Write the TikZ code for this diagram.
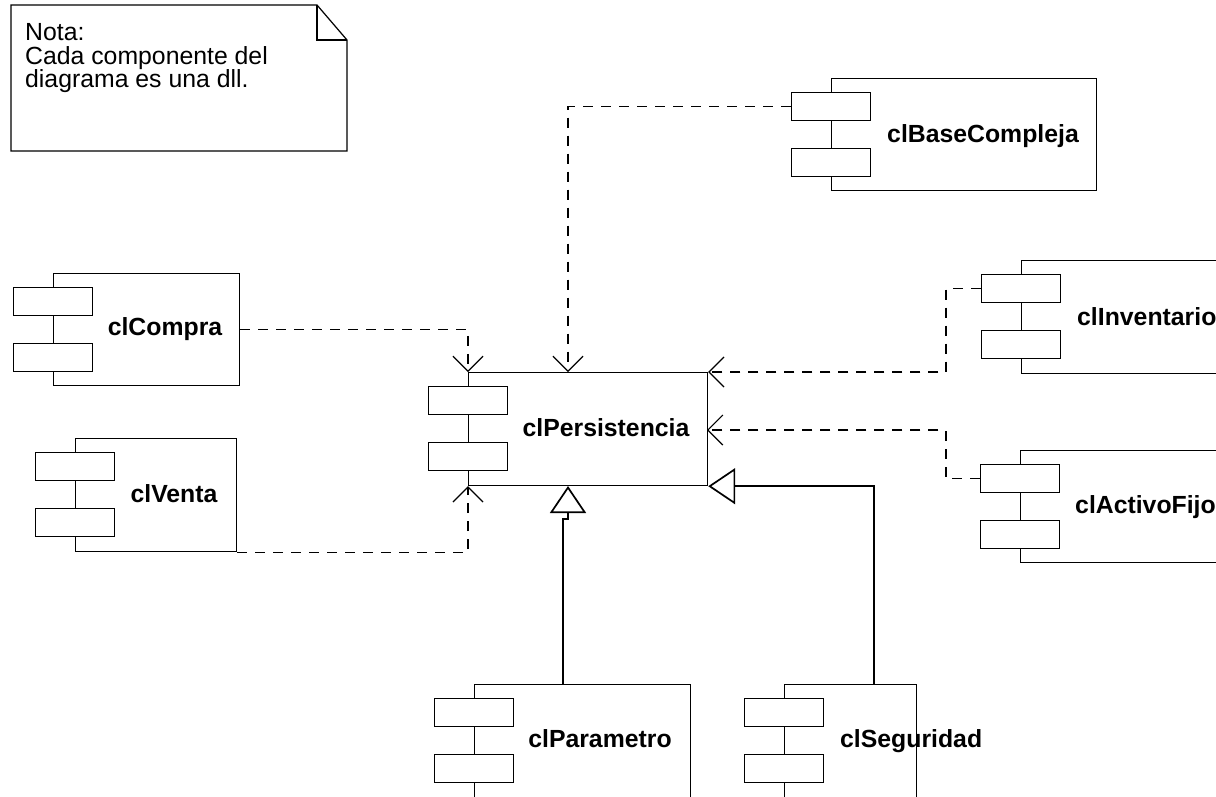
\documentclass[tikz,border=0pt]{standalone}
\usepackage{fontspec}
\setmainfont{Liberation Sans}
\usetikzlibrary{arrows.meta,calc}

\tikzset{
  compbody/.style={draw, fill=white, line width=1.2pt, inner sep=0pt, rectangle},
  compport/.style={draw, fill=white, line width=1.2pt, inner sep=0pt, rectangle,
                   minimum width=79pt, minimum height=28pt},
  complabel/.style={inner sep=0pt, font=\fontsize{24.8pt}{28pt}\selectfont\bfseries},
  notetext/.style={inner sep=0pt, anchor=base west, font=\fontsize{24.8pt}{28pt}\selectfont},
  dep/.style={line width=1.2pt, dash pattern=on 10pt off 8pt,
              -{Straight Barb[length=15pt,width=30pt]}},
  gen/.style={line width=1.7pt,
              -{Triangle[open,fill=white,length=27pt,width=36pt]}},
}

% component: body rectangle plus two ports straddling its left edge
% #1 name, #2 left x, #3 top y, #4 width, #5 height
\newcommand{\umlcomp}[5]{%
  \node[compbody, minimum width=#4pt, minimum height=#5pt, anchor=north west] (#1) at (#2,#3) {};
  \node[compport] (#1-a) at ($(#1.north west)+(0,28.5)$) {};
  \node[compport] (#1-b) at ($(#1.north west)+(0,84.5)$) {};
}

\begin{document}
\begin{tikzpicture}[x=1pt, y=-1pt]
\clip (0,0) rectangle (1216,796);
\fill[white] (0,0) rectangle (1216,796);

% note with folded corner
\draw[line width=1.2pt, line join=miter] (11,5) -- (317,5) -- (347,40) -- (347,151) -- (11,151) -- cycle;
\draw[line width=1.2pt] (317,5) -- (317,40) -- (347,40);
\node[notetext] (nota1) at (25,40) {Nota:};
\node[notetext] (nota2) at (25,64) {Cada componente del};
\node[notetext] (nota3) at (25,87) {diagrama es una dll.};

% components
\umlcomp{bc}{831}{78}{265}{112}
\umlcomp{com}{53}{273}{186}{112}
\umlcomp{ven}{75}{438}{161}{113}
\umlcomp{per}{468}{372}{239}{113}
\umlcomp{inv}{1021}{260}{220}{113}
\umlcomp{af}{1020}{450}{220}{112}
\umlcomp{par}{474}{684}{216}{130}
\umlcomp{seg}{784}{684}{132}{130}

% component names
\node[complabel, anchor=base] (bc-l) at (983,142) {clBaseCompleja};
\node[complabel, anchor=base] (com-l) at (165,335) {clCompra};
\node[complabel, anchor=base] (ven-l) at (174,502) {clVenta};
\node[complabel, anchor=base] (per-l) at (606,436) {clPersistencia};
\node[complabel, anchor=base west] (inv-l) at (1077,325) {clInventario};
\node[complabel, anchor=base west] (af-l) at (1075,513) {clActivoFijo};
\node[complabel, anchor=base] (par-l) at (600,747) {clParametro};
\node[complabel, anchor=base west] (seg-l) at (840,747) {clSeguridad};

% connection points on clPersistencia and the lower components
\coordinate (per-top) at (568,372);
\coordinate (per-right) at (707,430);
\coordinate (per-bot) at (568,486);
\coordinate (par-top) at (563,684);
\coordinate (seg-top) at (874,684);

% dependencies
\draw[dep] (bc-a.west) -| (per-top);
\draw[dep] (com.east) -| (per.north west);
\draw[dep] (ven.south east) -| (per.south west);
\draw[dep] (inv-a.west) -- ++(-35,0) |- (per.north east);
\draw[dep] (af-a.west) -- ++(-34,0) |- (per-right);

% generalizations
\draw[gen] (par-top) -- ++(0,-165) -- ++(5,0) -- (per-bot);
\draw[gen] (seg-top) |- (per.south east);
\end{tikzpicture}
\end{document}
